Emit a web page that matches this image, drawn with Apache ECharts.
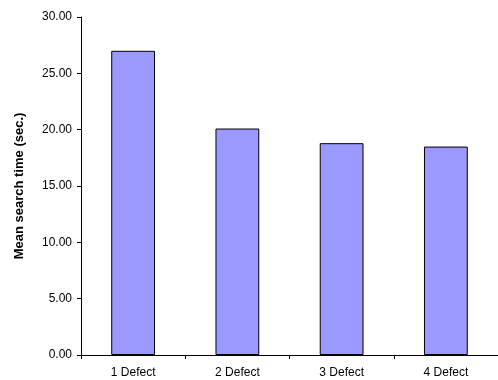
<!DOCTYPE html>
<html>
<head>
<meta charset="utf-8">
<script src="https://cdn.jsdelivr.net/npm/echarts@6/dist/echarts.min.js"></script>
<style>
html, body { margin: 0; padding: 0; background: #fff; }
#chart { width: 498px; height: 380px; }
</style>
</head>
<body>
<div id="chart"></div>
<script>
// Mean search time per number of defects
const categories = ['1 Defect', '2 Defect', '3 Defect', '4 Defect'];
const meanSearchTime = [27.0, 20.1, 18.8, 18.5];
const yAxisTitle = 'Mean search time (sec.)';

const chart = echarts.init(document.getElementById('chart'), null, { renderer: 'canvas' });
const font = '"Liberation Sans", Arial, sans-serif';

chart.setOption({
  animation: false,
  grid: { left: 81, right: -4, top: 17, bottom: 25, containLabel: false },
  xAxis: {
    type: 'category',
    data: categories,
    boundaryGap: true,
    axisLine: { show: true, lineStyle: { color: '#000', width: 1 } },
    axisTick: { show: true, alignWithLabel: false, length: 4, inside: false, lineStyle: { color: '#000' } },
    axisLabel: { color: '#000', fontSize: 12, fontFamily: font, margin: 12 },
    splitLine: { show: false }
  },
  yAxis: {
    type: 'value',
    min: 0,
    max: 30,
    interval: 5,
    name: yAxisTitle,
    nameLocation: 'middle',
    nameGap: 55,
    nameTextStyle: { color: '#000', fontSize: 13, fontWeight: 'bold', fontFamily: font },
    axisLine: { show: true, lineStyle: { color: '#000', width: 1 } },
    axisTick: { show: true, length: 4, lineStyle: { color: '#000' } },
    axisLabel: {
      color: '#000', fontSize: 12, fontFamily: font, margin: 9,
      formatter: v => v.toFixed(2)
    },
    splitLine: { show: false }
  },
  series: [{
    type: 'bar',
    data: meanSearchTime,
    barWidth: '42%',
    itemStyle: { color: '#9999FF', borderColor: '#000', borderWidth: 1 }
  }]
});
</script>
</body>
</html>
